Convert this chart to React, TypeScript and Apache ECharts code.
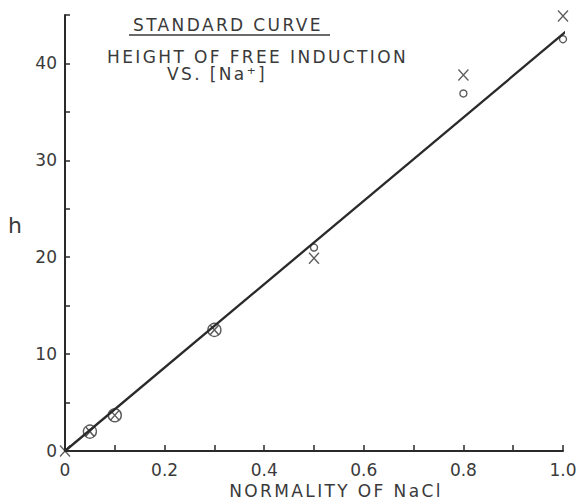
import React, { useEffect, useRef } from "react";
import * as echarts from "echarts";

// Fitted standard curve (straight line through origin)
const fitLineX = [0, 1.02];
const fitLineY = [0, 43.9];

// Circle measurements
const circleX = [0.05, 0.1, 0.3, 0.5, 0.8, 1.0];
const circleY = [2.0, 3.7, 12.5, 21.0, 36.9, 42.5];

// Cross measurements
const crossX = [0, 0.05, 0.1, 0.3, 0.5, 0.8, 1.0];
const crossY = [0, 2.0, 3.7, 12.5, 19.9, 38.8, 44.9];

const xTickLabels = ["0", "0.2", "0.4", "0.6", "0.8", "1.0"];
const yTickLabels = ["0", "10", "20", "30", "40"];

const FONT = "DejaVu Sans";
// same face, distinct name so the lettering-style spacing can target these texts only
const WIDE = "Bitstream Vera Sans, DejaVu Sans";
const INK = "#3a3a3a";

export default function App() {
  const ref = useRef<HTMLDivElement>(null);
  useEffect(() => {
    if (!ref.current) return;
    const chart = echarts.init(ref.current, null, { renderer: "svg" });
    const zip = (xs: number[], ys: number[]) => xs.map((x, i) => [x, ys[i]]);
    chart.setOption({
      animation: false,
      backgroundColor: "#ffffff",
      grid: { left: 65, right: 14, top: 15, bottom: 49, containLabel: false, outerBoundsMode: "none" },
      xAxis: {
        type: "value",
        min: 0,
        max: 1,
        interval: 0.1,
        name: "NORMALITY OF NaCl",
        nameLocation: "middle",
        nameGap: 33,
        nameTextStyle: { fontFamily: WIDE, fontSize: 17, lineHeight: 14, color: INK, padding: [0, 0, 0, 44] },
        axisLine: { lineStyle: { color: "#2a2a2a", width: 2 } },
        axisTick: { inside: true, length: 6, lineStyle: { color: "#2a2a2a", width: 1.5 } },
        splitLine: { show: false },
        axisLabel: {
          margin: 10,
          fontFamily: FONT,
          fontSize: 17,
          color: INK,
          formatter: (v: number) => {
            const k = Math.round(v * 10);
            return k % 2 === 0 ? xTickLabels[k / 2] : "";
          },
        },
      },
      yAxis: {
        type: "value",
        min: 0,
        max: 45,
        interval: 5,
        axisLine: { lineStyle: { color: "#2a2a2a", width: 2 } },
        axisTick: { inside: true, length: 5, lineStyle: { color: "#2a2a2a", width: 1.5 } },
        splitLine: { show: false },
        axisLabel: {
          margin: 8,
          fontFamily: FONT,
          fontSize: 17,
          color: INK,
          formatter: (v: number) => (v % 10 === 0 ? yTickLabels[v / 10] : ""),
        },
      },
      graphic: [
        {
          type: "text",
          left: 8,
          top: 214,
          style: { text: "h", fontFamily: FONT, fontSize: 22, lineHeight: 22, fill: INK },
        },
        {
          type: "text",
          left: 133,
          top: 16,
          style: { text: "STANDARD CURVE", fontFamily: WIDE, fontSize: 17, lineHeight: 15, fill: INK },
        },
        {
          type: "line",
          shape: { x1: 129, y1: 35, x2: 330, y2: 35 },
          style: { stroke: INK, lineWidth: 1.5 },
        },
        {
          type: "text",
          left: 107,
          top: 48,
          style: { text: "HEIGHT OF FREE INDUCTION", fontFamily: WIDE, fontSize: 17, lineHeight: 15, fill: INK },
        },
        {
          type: "text",
          left: 167,
          top: 65,
          style: { text: "VS. [Na⁺]", fontFamily: WIDE, fontSize: 17, lineHeight: 15, fill: INK },
        },
      ],
      series: [
        {
          type: "line",
          data: zip(fitLineX, fitLineY),
          symbol: "none",
          clip: false,
          lineStyle: { color: "#2a2a2a", width: 2.3 },
        },
        {
          type: "scatter",
          data: zip(circleX, circleY),
          symbol: "circle",
          symbolSize: (val: number[]) => (val[0] <= 0.3 ? 13 : 7),
          clip: false,
          itemStyle: { color: "rgba(255,255,255,0)", borderColor: "#333", borderWidth: 1.4 },
        },
        {
          type: "scatter",
          data: zip(crossX, crossY),
          symbol: "path://M0,0L10,11M10,0L0,11",
          symbolSize: (val: number[]) => (val[0] > 0 && val[0] <= 0.3 ? [8, 9] : [10, 11]),
          clip: false,
          itemStyle: { color: "none", borderColor: "#333", borderWidth: 1.4 },
        },
      ],
    });
    return () => chart.dispose();
  }, []);
  return (
    <>
      <style>{`.rc text[style*="Vera"], .rc text[font-family*="Vera"] { letter-spacing: 0.14em; }`}</style>
      <div
        ref={ref}
        className="rc"
        style={{ position: "absolute", left: 0, top: 0, width: 577, height: 500, background: "#fff" }}
      />
    </>
  );
}
